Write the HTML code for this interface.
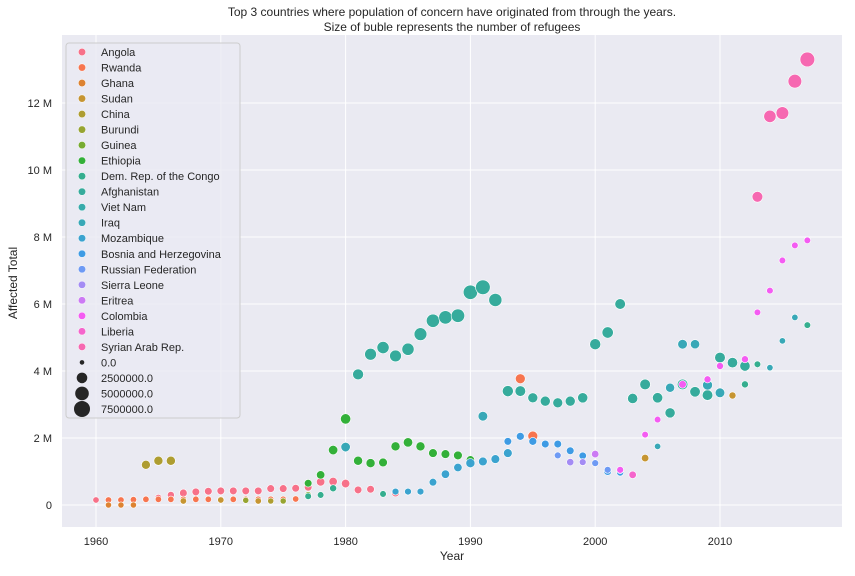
<!DOCTYPE html>
<html><head><meta charset="utf-8"><style>
body{margin:0;background:#fff;font-family:"Liberation Sans","DejaVu Sans",sans-serif}
svg text{fill:#262626}
</style></head><body>
<svg id="chart" width="855" height="571" xmlns="http://www.w3.org/2000/svg">
<text x="452" y="16" text-anchor="middle" font-size="12">Top 3 countries where population of concern have originated from through the years.</text>
<text x="452" y="31" text-anchor="middle" font-size="12">Size of buble represents the number of refugees</text>
<rect x="62" y="35" width="780" height="492" fill="#eaeaf2"/>
<g id="grid"></g><g id="marks"></g><g id="axes"></g><g id="legend"></g>
<text x="452" y="560" text-anchor="middle" font-size="12">Year</text>
<text transform="translate(17,283) rotate(-90)" text-anchor="middle" font-size="12">Affected Total</text>
</svg>
<script>
const countries=["Angola","Rwanda","Ghana","Sudan","China","Burundi","Guinea","Ethiopia","Dem. Rep. of the Congo","Afghanistan","Viet Nam","Iraq","Mozambique","Bosnia and Herzegovina","Russian Federation","Sierra Leone","Eritrea","Colombia","Liberia","Syrian Arab Rep."];
const colors=["#f77189","#f7754f","#dd8332","#c69532","#ae9d31","#97a431","#77ab31","#33b039","#35ae8f","#36ab9c","#37abab","#38a8b7","#3ba3cf","#3e9be4","#6e9af4","#a48cf4","#cc7af4","#f45cf2","#f565cc","#f668b1"];
const xTicks=[1960,1970,1980,1990,2000,2010];
const yTicks=[0,2,4,6,8,10,12];
const sizeLegend=[0,2500000,5000000,7500000];
const years=[1960,1961,1962,1963,1964,1965,1966,1967,1968,1969,1970,1971,1972,1973,1974,1975,1976,1977,1978,1979,1980,1981,1982,1984,
1961,1962,1963,1964,1965,1966,1967,1968,1969,1970,1971,1972,1973,1974,1975,1976,1994,1995,
1961,1962,1963, 1967,1970,1973,2004,2011, 1964,1965,1966,1974, 1972,1975, 1977,
1977,1978,1979,1980,1981,1982,1983,1984,1985,1986,1987,1988,1989,1990,
1981,1982,1983,1984,1985,1986,1987,1988,1989,1990,1991,1992,1993,1994,1995,1996,1997,1998,1999,2000,2001,2002,2003,2004,2005,2006,2007,2008,2009,2010,2011,2012,
1977,1978,1979,1983,2012,2013,2017,
1980,1991,2005,2006,2007,2008,2009,2010,2014,2015,2016,
1984,1985,1986,1987,1988,1989,1990,1991,1992,1993,
1993,1994,1995,1996,1997,1998,1999,2001,2002,
1997,1999,2000,2001,2002, 1998,1999, 2000,
2002,2004,2005,2007,2009,2010,2012,2013,2014,2015,2016,2017, 2003,
2013,2014,2015,2016,2017];
const values=[0.15,0.15,0.15,0.15,0.17,0.22,0.3,0.36,0.39,0.41,0.42,0.42,0.42,0.42,0.49,0.49,0.5,0.53,0.69,0.7,0.64,0.45,0.47,0.36,
0.15,0.15,0.16,0.17,0.17,0.17,0.17,0.17,0.17,0.17,0.17,0.17,0.17,0.17,0.17,0.18,3.77,2.06,
0.0,0.0,0.0, 0.12,0.15,0.12,1.4,3.27, 1.2,1.32,1.32,0.12, 0.14,0.12, 0.3,
0.65,0.9,1.64,2.57,1.32,1.25,1.27,1.75,1.87,1.75,1.55,1.52,1.48,1.35,
3.9,4.5,4.7,4.45,4.65,5.1,5.5,5.6,5.65,6.35,6.5,6.12,3.4,3.4,3.2,3.1,3.05,3.1,3.2,4.8,5.15,6.0,3.18,3.6,3.2,2.75,3.6,3.38,3.28,4.4,4.25,4.15,
0.26,0.3,0.5,0.33,3.6,4.2,5.37,
1.73,2.65,1.75,3.5,4.8,4.8,3.58,3.35,4.1,4.9,5.6,
0.4,0.4,0.4,0.68,0.92,1.12,1.25,1.3,1.37,1.55,
1.9,2.05,1.9,1.82,1.82,1.62,1.47,1.0,0.97,
1.48,1.28,1.25,1.05,1.04, 1.28,1.28, 1.52,
1.05,2.1,2.55,3.6,3.75,4.15,4.35,5.75,6.4,7.3,7.75,7.9, 0.9,
9.2,11.6,11.7,12.65,13.3];
const refugees=[0.3,0.3,0.3,0.3,0.3,0.4,0.6,0.9,0.9,0.9,0.9,0.9,0.9,0.9,0.9,0.9,0.9,0.9,1.3,1.3,1.3,0.9,0.9,0.9,
0.3,0.3,0.3,0.3,0.3,0.3,0.3,0.3,0.3,0.3,0.3,0.3,0.3,0.3,0.3,0.3,2.2,2.2,
0.2,0.2,0.2, 0.3,0.3,0.3,0.8,0.6, 1.6,1.7,1.7,0.2, 0.2,0.2, 0.4,
0.9,1.3,1.9,2.5,1.7,1.7,1.5,1.7,1.9,1.7,1.5,1.5,1.5,1.2,
2.9,3.6,3.9,3.6,3.9,4.4,4.8,4.9,5.0,5.8,6.1,4.7,3.0,2.7,2.3,2.3,2.2,2.3,2.4,3.0,3.2,2.7,2.4,2.7,2.5,2.4,2.7,2.6,2.7,2.7,2.5,2.5,
0.4,0.4,0.6,0.4,0.6,0.4,0.4,
1.9,2.0,0.3,1.7,2.0,1.8,2.2,2.0,0.3,0.3,0.3,
0.5,0.5,0.5,0.9,1.3,1.3,1.7,1.5,1.5,1.5,
0.9,1.0,1.0,0.9,0.9,0.9,0.8,0.9,0.6,
0.5,0.5,0.5,0.5,0.5, 0.7,0.5, 0.8,
0.5,0.4,0.4,0.9,0.6,0.6,0.6,0.4,0.4,0.4,0.4,0.4, 0.8,
2.8,4.0,4.3,5.2,6.2];
const idx=[0,0,0,0,0,0,0,0,0,0,0,0,0,0,0,0,0,0,0,0,0,0,0,0,
1,1,1,1,1,1,1,1,1,1,1,1,1,1,1,1,1,1,
2,2,2, 3,3,3,3,3, 4,4,4,4, 5,5, 6,
7,7,7,7,7,7,7,7,7,7,7,7,7,7,
9,9,9,9,9,9,9,9,9,9,9,9,9,9,9,9,9,9,9,9,9,9,9,9,9,9,9,9,9,9,9,9,
8,8,8,8,8,8,8,
11,11,11,11,11,11,11,11,11,11,11,
12,12,12,12,12,12,12,12,12,12,
13,13,13,13,13,13,13,13,13,
14,14,14,14,14, 15,15, 16,
17,17,17,17,17,17,17,17,17,17,17,17, 18,
19,19,19,19,19];
const NS="http://www.w3.org/2000/svg";
const X=y=>96+(y-1960)*12.48;
const Y=v=>505-v*33.5;
const R=m=>Math.sqrt(8+m/7.5*56);
function mk(t,a,p){const e=document.createElementNS(NS,t);for(const k in a)e.setAttribute(k,a[k]);p.appendChild(e);return e;}
const grid=document.getElementById('grid'),axes=document.getElementById('axes'),marks=document.getElementById('marks'),leg=document.getElementById('legend');
xTicks.forEach(t=>{const l=mk('line',{x1:X(t),x2:X(t),y1:35,y2:527,stroke:'#fff','stroke-width':1},grid);


const tx=mk('text',{x:X(t),y:545,'text-anchor':'middle','font-size':11},axes);tx.textContent=t;

});
yTicks.forEach(t=>{const l=mk('line',{x1:62,x2:842,y1:Y(t),y2:Y(t),stroke:'#fff','stroke-width':1},grid);


const tx=mk('text',{x:52,y:Y(t)+4,'text-anchor':'end','font-size':11},axes);tx.textContent=t===0?'0':t+' M';

});
years.forEach((yr,i)=>{const c=mk('circle',{cx:X(yr),cy:Y(values[i]),r:R(refugees[i]),fill:colors[idx[i]],stroke:'#fff','stroke-width':0.6},marks);

});
const box=mk('rect',{x:66,y:43,width:174,height:375,rx:3,fill:'#eaeaf2',stroke:'#cccccc','fill-opacity':0.8},leg);


const STEP=15.52;
countries.forEach((n,i)=>{const yy=52+i*STEP;
const c=mk('circle',{cx:82,cy:yy,r:3.7,fill:colors[i],stroke:'#fff','stroke-width':0.5},leg);


const t=mk('text',{x:101,y:yy+4,'font-size':11},leg);t.textContent=n;

});
sizeLegend.forEach((s,i)=>{const yy=52+(20+i)*STEP;
const c=mk('circle',{cx:82,cy:yy,r:[2.3,5.3,6.8,8][i],fill:'#262626'},leg);


const t=mk('text',{x:101,y:yy+4,'font-size':11},leg);t.textContent=s.toFixed(1);

});
</script>
</body></html>
